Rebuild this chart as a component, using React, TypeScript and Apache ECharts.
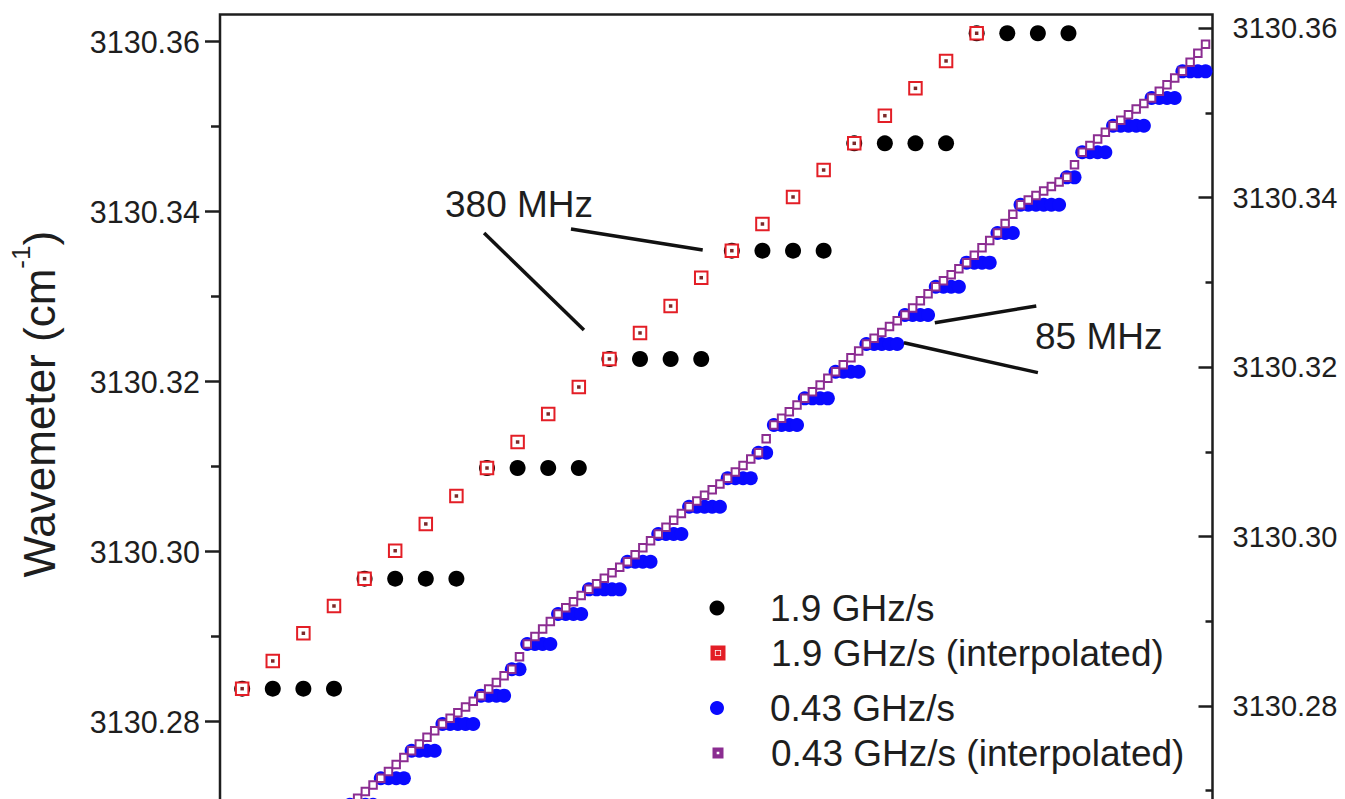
import { useEffect, useRef } from "react";
import * as echarts from "echarts";

const FONT = '"Liberation Sans", Arial, Helvetica, sans-serif';
const INK = "#1e1e1e";
const BLACK = "#000000";
const RED = "#e31e26";
const RED_CORE = "#7a2a2a";
const BLUE = "#0a0aff";
const PURPLE = "#8b2d91";

// 1.9 GHz/s scan: wavemeter reading held for 4 samples per update
const fastLevels = [3130.28388, 3130.29682, 3130.30984, 3130.32267, 3130.33541, 3130.34804, 3130.36099];
const fastSamplesPerLevel = 4;
// 1.9 GHz/s scan, interpolated reading per sample
const fastInterp = [
  3130.28388, 3130.28714, 3130.2904, 3130.29361, 3130.29682, 3130.30011, 3130.30326, 3130.30655,
  3130.30984, 3130.3129, 3130.3162, 3130.31937, 3130.32267, 3130.32573, 3130.3289, 3130.33223,
  3130.33541, 3130.33855, 3130.34173, 3130.3449, 3130.34804, 3130.35129, 3130.35451, 3130.35773,
  3130.36099,
];

// 0.43 GHz/s scan: first sample index of each wavemeter update and its reading
const slowStarts = [-4, 0, 4, 8, 13, 17, 19, 23, 27, 32, 36, 40, 45, 49, 51, 55, 59, 63, 68, 72, 76, 80, 83, 89, 91, 95, 100, 104, 108];
const slowLevels = [
  3130.27022, 3130.27334, 3130.27658, 3130.27973, 3130.28306, 3130.28616, 3130.28914, 3130.29267,
  3130.29557, 3130.29882, 3130.30208, 3130.30529, 3130.30863, 3130.31164, 3130.3149, 3130.31804,
  3130.32117, 3130.32443, 3130.32784, 3130.33117, 3130.334, 3130.33749, 3130.34082, 3130.34404,
  3130.34699, 3130.35011, 3130.35337, 3130.35651, 3130.36078,
];
// 0.43 GHz/s scan, interpolated reading per sample (from sample -4)
const slowInterpFirst = -4;
const slowInterp = [
  3130.27022, 3130.271, 3130.27178, 3130.27256, 3130.27334,
  3130.27415, 3130.27496, 3130.27577, 3130.27658,
  3130.27737, 3130.27816, 3130.27894, 3130.27973,
  3130.2804, 3130.28106, 3130.28173, 3130.28239, 3130.28306,
  3130.28384, 3130.28461, 3130.28539, 3130.28616,
  3130.28765, 3130.28914,
  3130.29002, 3130.29091, 3130.29179, 3130.29267,
  3130.2934, 3130.29412, 3130.29485, 3130.29557,
  3130.29622, 3130.29687, 3130.29752, 3130.29817, 3130.29882,
  3130.29964, 3130.30045, 3130.30127, 3130.30208,
  3130.30288, 3130.30369, 3130.30449, 3130.30529,
  3130.30596, 3130.30663, 3130.30729, 3130.30796, 3130.30863,
  3130.30938, 3130.31014, 3130.31089, 3130.31164,
  3130.31327, 3130.3149,
  3130.31569, 3130.31647, 3130.31726, 3130.31804,
  3130.31882, 3130.31961, 3130.32039, 3130.32117,
  3130.32199, 3130.3228, 3130.32362, 3130.32443,
  3130.32511, 3130.32579, 3130.32648, 3130.32716, 3130.32784,
  3130.32867, 3130.32951, 3130.33034, 3130.33117,
  3130.33188, 3130.33258, 3130.33329, 3130.334,
  3130.33487, 3130.33575, 3130.33662, 3130.33749,
  3130.3386, 3130.33971, 3130.34082,
  3130.34136, 3130.34189, 3130.34243, 3130.34297, 3130.3435, 3130.34404,
  3130.34552, 3130.34699,
  3130.34777, 3130.34855, 3130.34933, 3130.35011,
  3130.35076, 3130.35141, 3130.35207, 3130.35272, 3130.35337,
  3130.35416, 3130.35494, 3130.35573, 3130.35651,
  3130.35758, 3130.35864, 3130.35971,
];

const yMajor = [3130.28, 3130.3, 3130.32, 3130.34, 3130.36];
const yMinor = [3130.27, 3130.29, 3130.31, 3130.33, 3130.35];

const seriesNames = ["1.9 GHz/s", "1.9 GHz/s (interpolated)", "0.43 GHz/s", "0.43 GHz/s (interpolated)"];

// leader lines for the step annotations, in each scan's sample/reading coordinates
const fastStepLeaders = [
  [[7.905, 3130.33749], [11.168, 3130.32608]],
  [[10.744, 3130.33796], [15.049, 3130.33549]],
];
const slowStepLeaders = [
  [[71.88, 3130.32694], [85.04, 3130.3289]],
  [[67.87, 3130.32458], [85.25, 3130.32106]],
];

// open square with a small core, and a plain open square, for the legend keys
const RING_CORE_ICON = "path://M0,0H14V14H0Z M2.6,2.6V11.4H11.4V2.6Z M5.6,5.6H8.4V8.4H5.6Z";
const RING_ICON = "path://M0,0H10V10H0Z M2.4,2.4V7.6H7.6V2.4Z";

function buildOption(): echarts.EChartsOption {
  const fastMeasured: number[][] = [];
  fastLevels.forEach((v, m) => {
    for (let j = 0; j < fastSamplesPerLevel; j++) fastMeasured.push([m * fastSamplesPerLevel + j, v]);
  });
  const fastInterpData = fastInterp.map((v, k) => [k, v]);

  const slowMeasured: number[][] = [];
  slowLevels.forEach((v, j) => {
    const end = j + 1 < slowStarts.length ? slowStarts[j + 1] : slowStarts[j] + 4;
    for (let i = slowStarts[j]; i < end; i++) slowMeasured.push([i, v]);
  });
  const slowInterpData = slowInterp.map((v, n) => [slowInterpFirst + n, v]);

  const leaderLines = (segs: number[][][]) => ({
    silent: true,
    symbol: ["none", "none"],
    label: { show: false },
    lineStyle: { color: "#111", width: 3.5, type: "solid" as const, opacity: 1 },
    emphasis: { disabled: true },
    data: segs.map(([a, b]) => [{ coord: a }, { coord: b }]),
  });

  const tickLabel = (v: number) => v.toFixed(2);

  // icon centred at x = 717, label text starting at x = 770
  const legendRows = [
    { name: seriesNames[0], icon: "circle", size: 15, top: 588 },
    { name: seriesNames[1], icon: RING_CORE_ICON, size: 13, top: 633 },
    { name: seriesNames[2], icon: "circle", size: 14, top: 688 },
    { name: seriesNames[3], icon: RING_ICON, size: 9, top: 733 },
  ];

  return {
    animation: false,
    backgroundColor: "#ffffff",
    grid: {
      left: 218.5,
      right: 132.5,
      top: 14.5,
      bottom: 0,
      show: true,
      borderColor: INK,
      borderWidth: 2.5,
      backgroundColor: "transparent",
    },
    xAxis: [
      { type: "value", min: -0.7243, max: 31.706, show: false, axisLine: { onZero: false } },
      { type: "value", min: -20.855, max: 107.902, show: false, axisLine: { onZero: false } },
    ],
    yAxis: [
      {
        type: "value",
        position: "left",
        min: 3130.267255,
        max: 3130.363196,
        axisLine: { show: false, onZero: false },
        axisTick: { show: true, customValues: yMajor, length: 15, lineStyle: { color: INK, width: 2.5 } },
        axisLabel: {
          show: true,
          customValues: yMajor,
          formatter: tickLabel,
          margin: 20,
          fontSize: 30.5,
          color: INK,
          fontFamily: FONT,
        },
        splitLine: { show: false },
        name: "{a|Wavemeter (cm}{s|-1}{a|)}",
        nameLocation: "middle",
        nameRotate: 90,
        nameGap: 150,
        nameTextStyle: {
          padding: [0, 0, 0, 36],
          rich: {
            a: { fontSize: 44, color: INK, fontFamily: FONT, lineHeight: 62 },
            s: { fontSize: 26, color: INK, fontFamily: FONT, lineHeight: 26, verticalAlign: "top" },
          },
        },
      },
      {
        type: "value",
        position: "left",
        offset: 0,
        min: 3130.267255,
        max: 3130.363196,
        axisLine: { show: false, onZero: false },
        axisTick: { show: true, customValues: yMinor, length: 9, lineStyle: { color: INK, width: 2.5 } },
        axisLabel: { show: false },
        splitLine: { show: false },
      },
      {
        type: "value",
        position: "right",
        offset: 0,
        min: 3130.265362,
        max: 3130.361629,
        axisLine: { show: false, onZero: false },
        axisTick: { show: true, inside: true, customValues: yMajor, length: 14, lineStyle: { color: INK, width: 2.5 } },
        axisLabel: {
          show: true,
          customValues: yMajor,
          formatter: tickLabel,
          margin: 20,
          fontSize: 29,
          color: INK,
          fontFamily: FONT,
        },
        splitLine: { show: false },
      },
      {
        type: "value",
        position: "right",
        offset: 0,
        min: 3130.265362,
        max: 3130.361629,
        axisLine: { show: false, onZero: false },
        axisTick: { show: true, inside: true, customValues: yMinor, length: 7, lineStyle: { color: INK, width: 2.5 } },
        axisLabel: { show: false },
        splitLine: { show: false },
      },
    ],
    legend: legendRows.map((r) => ({
      data: [{ name: r.name, icon: r.icon }],
      left: 717 - r.size / 2,
      top: r.top,
      padding: 0,
      itemWidth: r.size,
      itemHeight: r.size,
      selectedMode: false,
      textStyle: {
        fontSize: 37,
        color: INK,
        fontFamily: FONT,
        lineHeight: 40,
        padding: [0, 0, 0, 770 - (717 + r.size / 2 + 5)],
      },
    })),
    graphic: [
      {
        type: "text",
        left: 445,
        top: 186,
        style: { text: "380 MHz", fontSize: 37, fill: INK, fontFamily: FONT },
      },
      {
        type: "text",
        left: 1035,
        top: 318,
        style: { text: "85 MHz", fontSize: 37, fill: INK, fontFamily: FONT },
      },
    ],
    series: [
      {
        name: seriesNames[0],
        type: "scatter",
        xAxisIndex: 0,
        yAxisIndex: 0,
        symbol: "circle",
        symbolSize: 16,
        itemStyle: { color: BLACK, opacity: 1 },
        data: fastMeasured,
        z: 2,
      },
      {
        name: seriesNames[1],
        type: "scatter",
        xAxisIndex: 0,
        yAxisIndex: 0,
        symbol: "emptyRect",
        symbolSize: 12.5,
        itemStyle: { color: RED, borderColor: RED, borderWidth: 2.8, opacity: 1 },
        data: fastInterpData,
        markLine: leaderLines(fastStepLeaders),
        z: 3,
      },
      {
        // small dark core of each interpolated 1.9 GHz/s marker
        name: "1.9 GHz/s (interpolated) core",
        type: "scatter",
        xAxisIndex: 0,
        yAxisIndex: 0,
        symbol: "rect",
        symbolSize: 3.5,
        silent: true,
        itemStyle: { color: RED_CORE, opacity: 1 },
        data: fastInterpData,
        z: 3,
      },
      {
        name: seriesNames[2],
        type: "scatter",
        xAxisIndex: 1,
        yAxisIndex: 0,
        symbol: "circle",
        symbolSize: 14,
        itemStyle: { color: BLUE, opacity: 1 },
        data: slowMeasured,
        markLine: leaderLines(slowStepLeaders),
        z: 4,
      },
      {
        name: seriesNames[3],
        type: "scatter",
        xAxisIndex: 1,
        yAxisIndex: 0,
        symbol: "emptyRect",
        symbolSize: 7.5,
        itemStyle: { color: PURPLE, borderColor: PURPLE, borderWidth: 2, opacity: 1 },
        data: slowInterpData,
        z: 5,
      },
    ],
  };
}

export default function App() {
  const ref = useRef<HTMLDivElement>(null);
  useEffect(() => {
    if (!ref.current) return;
    const chart = echarts.init(ref.current, undefined, { renderer: "svg" });
    chart.setOption(buildOption());
    return () => chart.dispose();
  }, []);
  return (
    <div
      style={{
        position: "fixed",
        left: 0,
        top: 0,
        width: 1345,
        height: 799,
        overflow: "hidden",
        background: "#fff",
      }}
    >
      <div ref={ref} style={{ width: 1345, height: 830 }} />
    </div>
  );
}
